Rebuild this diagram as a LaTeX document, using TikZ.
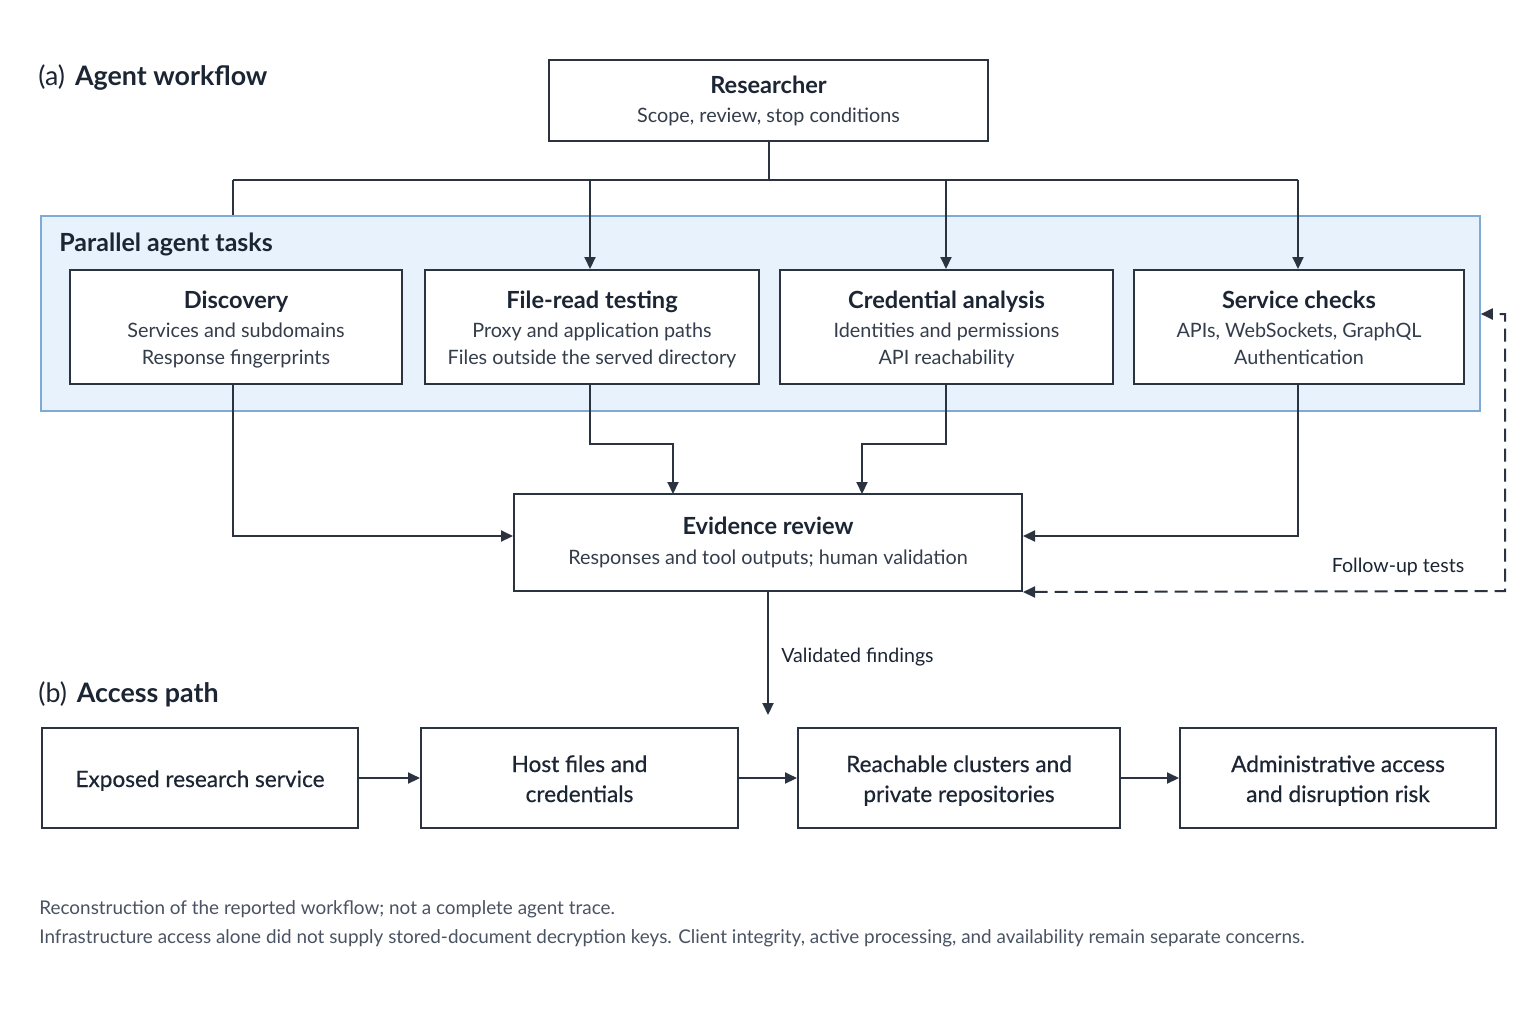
\documentclass[tikz,border=0pt]{standalone}
\usepackage{fontspec}
\setmainfont{Lato}
\newfontfamily\medfont{Lato}[FakeBold=0.5]
\usetikzlibrary{arrows.meta}
\definecolor{txt}{HTML}{1C2533}
\definecolor{subtxt}{HTML}{343D4B}
\definecolor{boxc}{HTML}{2B3340}
\definecolor{linec}{HTML}{2B3340}
\definecolor{bluefill}{HTML}{E8F2FC}
\definecolor{bluedraw}{HTML}{7EAAD6}
\definecolor{notec}{HTML}{4A5362}
\tikzset{
  box/.style={draw=boxc, line width=1pt, fill=white, align=center, inner sep=0pt, text=txt,
    font=\fontsize{9.9}{13.5}\selectfont},
  conn/.style={draw=linec, line width=1pt, -{Triangle[length=6pt,width=5.5pt]}},
  plain/.style={draw=linec, line width=1pt},
  dashconn/.style={draw=linec, line width=1pt, dash pattern=on 6.5pt off 3.5pt, {Triangle[length=6pt,width=5.5pt]}-{Triangle[length=6pt,width=5.5pt]}},
  heading/.style={anchor=west, text=txt, inner sep=0pt, font=\fontsize{13.4}{17}\selectfont},
  lbl/.style={text=txt, inner sep=0pt, font=\fontsize{9.8}{12}\selectfont},
  note/.style={anchor=west, text=notec, inner sep=0pt, font=\fontsize{9.45}{12}\selectfont}
}
% #1 = height of the top rule, #2 = title
\newcommand{\ttl}[2]{{\fontsize{11.8}{15}\selectfont\bfseries\rule{0pt}{#1}#2}}
\newcommand{\sub}[1]{{\color{subtxt}#1}}
\begin{document}
\begin{tikzpicture}[x=0.5pt,y=-0.5pt]
\useasboundingbox[fill=white] (0,0) rectangle (1536,1024);

% headings
\node[heading] (ha) at (38,78) {(a)\hspace{5pt}{\bfseries Agent workflow}};
\node[heading] (hb) at (38,694) {(b)\hspace{5pt}{\bfseries Access path}};

% blue group
\node[draw=bluedraw, fill=bluefill, line width=0.8pt, minimum width=1439*0.5pt, minimum height=195*0.5pt, inner sep=0pt] (grp) at (760.5,313.5) {};
\node[anchor=west, text=txt, inner sep=0pt, font=\fontsize{12.5}{15}\selectfont\bfseries] (grpl) at (59,244) {Parallel agent tasks};

% researcher
\node[box, minimum width=439*0.5pt, minimum height=81*0.5pt] (res) at (768.5,100.5)
  {\ttl{12pt}{Researcher}\\[1pt]\sub{Scope, review, stop conditions\strut}};

% tasks
\node[box, minimum width=332*0.5pt, minimum height=114*0.5pt] (t1) at (236,327)
  {\ttl{14pt}{Discovery}\\[1pt]\sub{Services and subdomains}\\\sub{Response fingerprints\strut}};
\node[box, minimum width=334*0.5pt, minimum height=114*0.5pt] (t2) at (592,327)
  {\ttl{14pt}{File-read testing}\\[1pt]\sub{Proxy and application paths}\\\sub{Files outside the served directory\strut}};
\node[box, minimum width=333*0.5pt, minimum height=114*0.5pt] (t3) at (946.5,327)
  {\ttl{14pt}{Credential analysis}\\[1pt]\sub{Identities and permissions}\\\sub{API reachability\strut}};
\node[box, minimum width=330*0.5pt, minimum height=114*0.5pt] (t4) at (1299,327)
  {\ttl{14pt}{Service checks}\\[1pt]\sub{APIs, WebSockets, GraphQL}\\\sub{Authentication\strut}};

% evidence review
\node[box, minimum width=508*0.5pt, minimum height=97*0.5pt] (ev) at (768,542.5)
  {\ttl{11pt}{Evidence review}\\[1.3pt]\sub{Responses and tool outputs; human validation\strut}};

% access path
\tikzset{pbox/.style={box, minimum height=100*0.5pt, font=\fontsize{11.3}{15}\medfont}}
\node[pbox, minimum width=316*0.5pt] (p1) at (200,778) {\rule{0pt}{13.5pt}Exposed research service\strut};
\node[pbox, minimum width=317*0.5pt] (p2) at (579.5,778) {\rule{0pt}{13.5pt}Host files and\\credentials\strut};
\node[pbox, minimum width=322*0.5pt] (p3) at (959,778) {\rule{0pt}{13.5pt}Reachable clusters and\\private repositories\strut};
\node[pbox, minimum width=316*0.5pt] (p4) at (1338,778) {\rule{0pt}{13.5pt}Administrative access\\and disruption risk\strut};

% fan-out from researcher
\coordinate (fl) at (233,180);
\coordinate (fr) at (1298,180);
\coordinate (f2) at (590,180);
\coordinate (f3) at (946,180);
\draw[plain] (res.south) -- (res.south |- fl);
\draw[plain] (fl) -- (fr);
\draw[plain] (fl) -- (fl |- grp.north);
\draw[conn] (f2) -- (f2 |- t2.north);
\draw[conn] (f3) -- (f3 |- t3.north);
\draw[conn] (fr) -- (fr |- t4.north);

% into evidence review
\draw[conn] (233,384) |- (ev.west |- 0,536);
\draw[conn] (590,384) -- (590,444) -| (673,494);
\draw[conn] (946,384) -- (946,444) -| (862,494);
\draw[conn] (1298,384) |- (ev.east |- 0,536);

% follow-up loop
\coordinate (fa) at (1505,591);
\coordinate (fb) at (1505,314);
\draw[dashconn] (ev.south east) -- (fa) -- (fb) -- (grp.east |- fb);
\node[lbl] (fut) at (1398,567) {Follow-up tests};

% validated findings
\coordinate (vf) at (768,715);
\draw[conn] (ev.south) -- (vf);
\node[lbl, anchor=west] (vfl) at (781,657) {Validated findings};

% access path arrows
\draw[conn] (p1) -- (p2);
\draw[conn] (p2) -- (p3);
\draw[conn] (p3) -- (p4);

% notes
\node[note] (n1) at (39,909) {Reconstruction of the reported workflow; not a complete agent trace.};
\node[note] (n2) at (39,938) {Infrastructure access alone did not supply stored-document decryption keys. Client integrity, active processing, and availability remain separate concerns.};
\end{tikzpicture}
\end{document}
